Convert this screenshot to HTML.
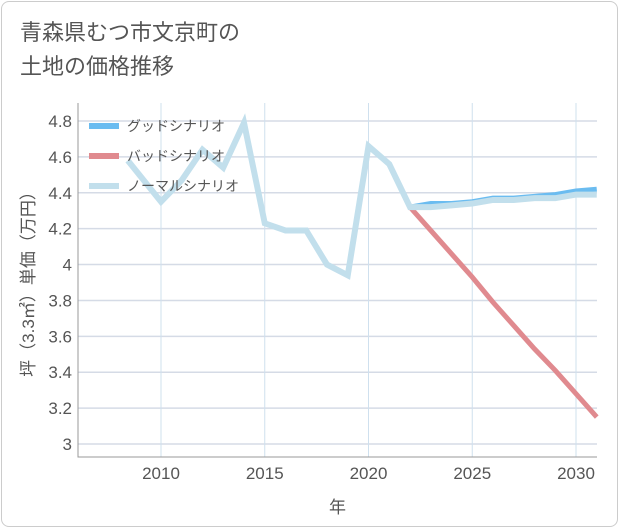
<!DOCTYPE html>
<html><head><meta charset="utf-8"><style>
body{margin:0;background:#fff;font-family:"Liberation Sans","Noto Sans CJK JP",sans-serif;}
#wrap{position:relative;width:621px;height:530px;}
#frame{position:absolute;left:1px;top:1px;width:617px;height:526px;border:1px solid #ccc;border-radius:8px;box-sizing:border-box;}
#title{position:absolute;left:20px;top:16px;font-size:22px;line-height:34px;color:#555;}
svg{position:absolute;left:0;top:0;}
</style></head><body>
<div id="wrap">
<div id="frame"></div>
<div id="title">青森県むつ市文京町の<br>土地の価格推移</div>
<svg id="chart" width="621" height="530"></svg>
</div>
<script>
const xTicks=[2010,2015,2020,2025,2030];
const yTicks=[3,3.2,3.4,3.6,3.8,4,4.2,4.4,4.6,4.8];
const yTickLabels=["3","3.2","3.4","3.6","3.8","4","4.2","4.4","4.6","4.8"];
const normalYears=[2008.4,2010,2011,2012,2013,2014,2015,2016,2017,2018,2019,2020,2021,2022,2023,2024,2025,2026,2027,2028,2029,2030,2031];
const normalValues=[4.58,4.35,4.47,4.64,4.54,4.79,4.23,4.19,4.19,4.0,3.94,4.66,4.56,4.32,4.32,4.33,4.34,4.36,4.36,4.37,4.37,4.39,4.39];
const futureYears=[2022,2023,2024,2025,2026,2027,2028,2029,2030,2031];
const goodValues=[4.32,4.34,4.34,4.35,4.37,4.37,4.38,4.39,4.41,4.42];
const badValues=[4.32,4.19,4.06,3.93,3.79,3.66,3.53,3.41,3.28,3.15];
const legendLabels=["グッドシナリオ","バッドシナリオ","ノーマルシナリオ"];
const legendColors=["#6bbcf0","#e08a8f","#c2dfec"];

const L=78,R=597,T=103,B=457;
const X=y=>161+(y-2010)*(576-161)/20;
const Y=v=>444-(v-3)*(444-121)/1.8;
const svg=document.getElementById('chart');
const NS='http://www.w3.org/2000/svg';
function mk(t,a){const e=document.createElementNS(NS,t);for(const k in a)e.setAttribute(k,a[k]);svg.appendChild(e);return e;}
yTicks.forEach((v,i)=>{
 const g=mk('line',{x1:L,x2:R,y1:Y(v),y2:Y(v),stroke:'#d5dbe6','stroke-width':1.5});
 
 
 const t=mk('text',{x:L-6,y:Y(v)+6,'text-anchor':'end','font-size':17,fill:'#555'});
 t.textContent=yTickLabels[i];
 
 
});
xTicks.forEach(v=>{
 const g=mk('line',{x1:X(v),x2:X(v),y1:T,y2:B,stroke:'#cfe0ee','stroke-width':1});
 
 
 const t=mk('text',{x:X(v),y:B+22,'text-anchor':'middle','font-size':17,fill:'#555'});
 t.textContent=v;
 
 
});
const ax=mk('path',{d:`M${L} ${T}V${B}H${R}`,fill:'none',stroke:'#999','stroke-width':1});


function line(xs,vs,c,w,n){
 const p=mk('polyline',{points:xs.map((x,i)=>X(x)+','+Y(vs[i])).join(' '),fill:'none',stroke:c,'stroke-width':w,'stroke-linejoin':'miter'});
 
 
}
line(futureYears,goodValues,legendColors[0],5,'good-scenario-line');
line(futureYears,badValues,legendColors[1],5,'bad-scenario-line');
line(normalYears,normalValues,legendColors[2],6,'normal-scenario-line');
legendLabels.forEach((s,i)=>{
 const y=126+i*30;
 const r=mk('rect',{x:89,y:y-3,width:30,height:6,fill:legendColors[i]});
 
 
 const t=mk('text',{x:127,y:y+5,'font-size':14,fill:'#555'});
 t.textContent=s;
 
 
});
const xt=mk('text',{x:(L+R)/2,y:513,'text-anchor':'middle','font-size':17,fill:'#555'});
xt.textContent='年';


const yt=mk('text',{x:0,y:0,'text-anchor':'middle','font-size':17,fill:'#555',transform:`translate(34,${(T+B)/2}) rotate(-90)`});
yt.textContent='坪（3.3㎡）単価（万円）';


</script>
</body></html>
